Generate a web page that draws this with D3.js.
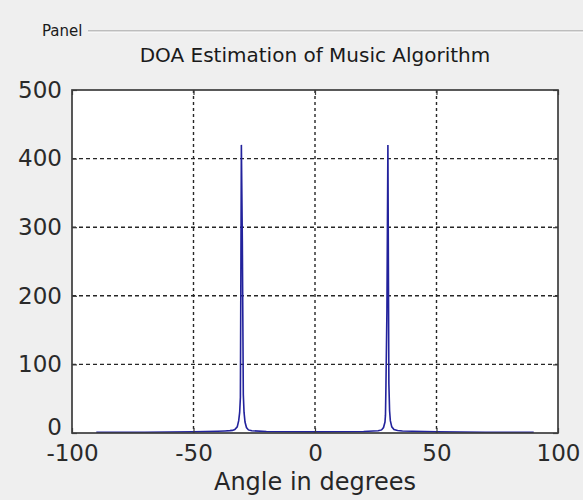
<!DOCTYPE html>
<html>
<head>
<meta charset="utf-8">
<script src="https://cdn.jsdelivr.net/npm/d3@7"></script>
<style>
  html, body { margin: 0; padding: 0; background: #efefef; }
  svg { display: block; }
</style>
</head>
<body>
<svg id="chart" width="583" height="500"></svg>
<script>
// MUSIC pseudo-spectrum samples: angle (degrees) and spectrum value
const angles = [
  -90, -80, -70, -60, -50, -45, -40, -37, -35, -34, -33, -32, -31.4, -31.0, -30.7,
  -30.3, -29.9, -29.5, -29.2, -28.8, -28.2, -27.4, -26, -20, -10, 0, 10, 20, 26, 27.4, 28.2,
  28.8, 29.0, 29.2, 29.6, 30.0, 30.4, 30.7, 31.0, 31.6, 32.5, 34, 36, 40, 45, 50, 60, 70, 80, 90
];
const spectrum = [
  1.0, 1.1, 1.2, 1.4, 1.8, 2.1, 2.6, 3.0, 3.4, 3.8, 5, 9, 18, 30, 52,
  420, 278, 56, 30, 16, 8, 4.5, 3.2, 2.2, 1.8, 1.7, 1.8, 2.2, 3.2, 4.5, 8,
  16, 26, 70, 179, 420, 72, 32, 18, 9, 5, 3.6, 3.0, 2.5, 2.1, 1.8, 1.4, 1.2, 1.1, 1.0
];

const xTicks = [-100, -50, 0, 50, 100];
const yTicks = [0, 100, 200, 300, 400, 500];
const xDomain = [-100, 100];
const yDomain = [0, 500];

const titleText = "DOA Estimation of Music Algorithm";
const xLabelText = "Angle in degrees";
const panelText = "Panel";

const svg = d3.select("#chart");
const W = 583, H = 500;
const margin = { left: 72, right: 25, top: 90, bottom: 67 };
const plotW = W - margin.left - margin.right;
const plotH = H - margin.top - margin.bottom;

const x = d3.scaleLinear().domain(xDomain).range([margin.left, margin.left + plotW]);
const y = d3.scaleLinear().domain(yDomain).range([margin.top + plotH, margin.top]);

const font = "'DejaVu Sans', 'Liberation Sans', Arial, sans-serif";
const plainNum = d => String(d);

// background
svg.append("rect").attr("width", W).attr("height", H).attr("fill", "#efefef");

// uipanel frame: etched line and caption
svg.append("line")
  .attr("x1", 88).attr("x2", W).attr("y1", 31).attr("y2", 31)
  .attr("stroke", "#8a8a8a").attr("stroke-width", 1);
svg.append("line")
  .attr("x1", 88).attr("x2", W).attr("y1", 32).attr("y2", 32)
  .attr("stroke", "#ffffff").attr("stroke-width", 1);
svg.append("text")
  .attr("x", 42).attr("y", 36)
  .attr("font-family", font).attr("font-size", 15)
  .attr("fill", "#1a1a1a")
  .text(panelText);

// axes area
svg.append("rect")
  .attr("x", margin.left).attr("y", margin.top)
  .attr("width", plotW).attr("height", plotH)
  .attr("fill", "#ffffff");

// dotted grid
const gridColor = "#262626";
const grid = svg.append("g");
grid.selectAll("line.vx")
  .data(xTicks.slice(1, -1))
  .join("line")
  .attr("x1", d => x(d)).attr("x2", d => x(d))
  .attr("y1", margin.top).attr("y2", margin.top + plotH)
  .attr("stroke", gridColor).attr("stroke-width", 1.4)
  .attr("stroke-dasharray", "3,3");
grid.selectAll("line.hy")
  .data(yTicks.slice(1, -1))
  .join("line")
  .attr("x1", margin.left).attr("x2", margin.left + plotW)
  .attr("y1", d => y(d)).attr("y2", d => y(d))
  .attr("stroke", gridColor).attr("stroke-width", 1.4)
  .attr("stroke-dasharray", "4,3");

// spectrum line
const pts = angles.map((a, i) => [a, spectrum[i]]);
const line = d3.line().x(d => x(d[0])).y(d => y(d[1]));
svg.append("path")
  .datum(pts)
  .attr("d", line)
  .attr("fill", "none")
  .attr("stroke", "#22229c")
  .attr("stroke-width", 1.6)
  .attr("stroke-linejoin", "miter")
  .attr("stroke-miterlimit", 4);

// axes with inward ticks on all four sides
const tickLen = 5;
const axisColor = "#3c3c3c";
const axB = svg.append("g").attr("transform", `translate(0,${margin.top + plotH})`)
  .call(d3.axisBottom(x).tickValues(xTicks).tickSize(-tickLen).tickPadding(12).tickFormat(plainNum));
const axT = svg.append("g").attr("transform", `translate(0,${margin.top})`)
  .call(d3.axisTop(x).tickValues(xTicks).tickSize(-tickLen).tickFormat(""));
const axL = svg.append("g").attr("transform", `translate(${margin.left},0)`)
  .call(d3.axisLeft(y).tickValues(yTicks).tickSize(-tickLen).tickPadding(10).tickFormat(plainNum));
const axR = svg.append("g").attr("transform", `translate(${margin.left + plotW},0)`)
  .call(d3.axisRight(y).tickValues(yTicks).tickSize(-tickLen).tickFormat(""));

[axB, axT, axL, axR].forEach(g => {
  g.select(".domain").remove();
  g.selectAll(".tick line").attr("stroke", axisColor).attr("stroke-width", 1.2);
  g.selectAll("text").attr("font-family", font).attr("font-size", 23).attr("fill", "#2a2a2a");
});
// zero label on y sits a little above the corner
axL.selectAll(".tick text").filter(d => d === 0).attr("dy", "0.06em");

// box
svg.append("rect")
  .attr("x", margin.left).attr("y", margin.top)
  .attr("width", plotW).attr("height", plotH)
  .attr("fill", "none").attr("stroke", axisColor).attr("stroke-width", 1.7);

// title and x label
svg.append("text")
  .attr("x", x(0)).attr("y", 62)
  .attr("text-anchor", "middle")
  .attr("font-family", font).attr("font-size", 20)
  .attr("fill", "#1a1a1a")
  .text(titleText);
svg.append("text")
  .attr("x", x(0)).attr("y", 490)
  .attr("text-anchor", "middle")
  .attr("font-family", font).attr("font-size", 24)
  .attr("fill", "#262626")
  .text(xLabelText);
</script>
</body>
</html>
